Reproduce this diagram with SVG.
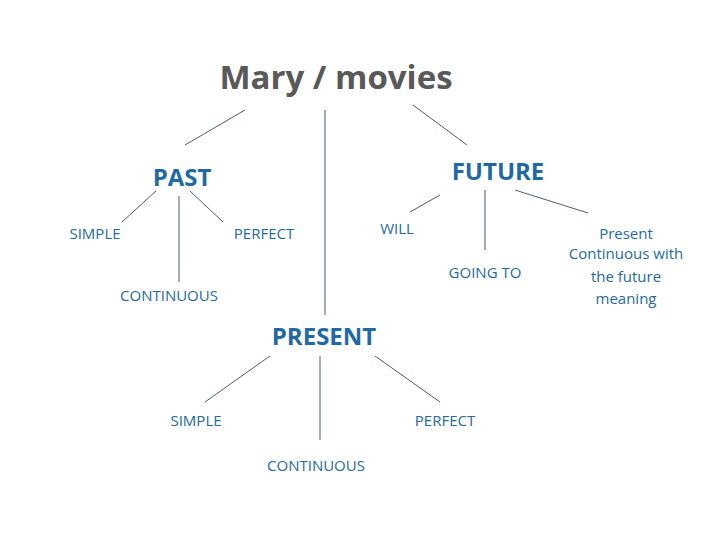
<svg xmlns="http://www.w3.org/2000/svg" width="720" height="540" viewBox="0 0 720 540">
<style>
text{font-family:"Open Sans","Liberation Sans",sans-serif;fill:#1f6aa5;text-anchor:middle}
.t{fill:#595959;font-weight:bold;font-size:33px}
.b{font-weight:bold;font-size:24px}
.s{font-size:15px}
#connectors line{stroke:#4a5b78;stroke-width:1}
</style>
<rect width="720" height="540" fill="#fff"/>
<g id="connectors">
<line x1="245" y1="110" x2="185" y2="145"/>
<line x1="325" y1="110" x2="325" y2="315"/>
<line x1="413" y1="105" x2="467" y2="145"/>
<line x1="156" y1="191" x2="122" y2="222"/>
<line x1="179" y1="196" x2="179" y2="282"/>
<line x1="190" y1="191" x2="223" y2="222"/>
<line x1="440" y1="195" x2="410" y2="212"/>
<line x1="485" y1="190" x2="485" y2="250"/>
<line x1="515" y1="190" x2="588" y2="213"/>
<line x1="270" y1="356" x2="205" y2="402"/>
<line x1="320" y1="356" x2="320" y2="440"/>
<line x1="375" y1="356" x2="440" y2="402"/>
</g>
<g id="title"><text class="t" x="336" y="89">Mary / movies</text></g>
<g id="past"><text class="b" x="182" y="186">PAST</text></g>
<g id="future"><text class="b" x="498" y="180">FUTURE</text></g>
<g id="present"><text class="b" x="324" y="345">PRESENT</text></g>
<g id="past-simple"><text class="s" x="95" y="239">SIMPLE</text></g>
<g id="past-perfect"><text class="s" x="264" y="239">PERFECT</text></g>
<g id="past-continuous"><text class="s" x="169" y="301">CONTINUOUS</text></g>
<g id="will"><text class="s" x="397" y="234">WILL</text></g>
<g id="going-to"><text class="s" x="485" y="278">GOING TO</text></g>
<g id="present-cont"><text class="s" x="626" y="239">Present</text><text class="s" x="626" y="259">Continuous with</text><text class="s" x="626" y="282">the future</text><text class="s" x="626" y="304">meaning</text></g>
<g id="present-simple"><text class="s" x="196" y="426">SIMPLE</text></g>
<g id="present-perfect"><text class="s" x="445" y="426">PERFECT</text></g>
<g id="present-continuous"><text class="s" x="316" y="471">CONTINUOUS</text></g>
</svg>
